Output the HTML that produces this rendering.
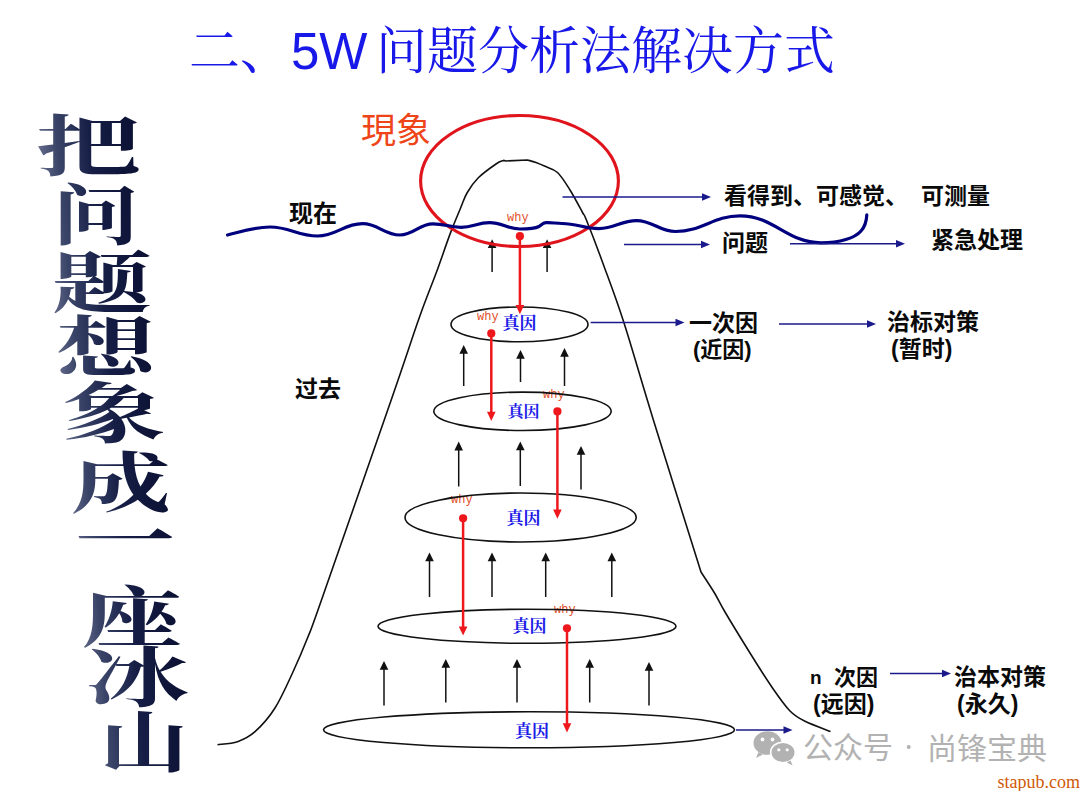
<!DOCTYPE html>
<html><head><meta charset="utf-8"><title>5W</title>
<style>html,body{margin:0;padding:0;background:#fff;font-family:"Liberation Sans",sans-serif}svg{display:block}</style></head>
<body><svg width="1080" height="791" viewBox="0 0 1080 791">
<defs><linearGradient id="wg" gradientUnits="userSpaceOnUse" x1="35" y1="145" x2="144.6" y2="135.4">
<stop offset="0" stop-color="#6a7290"/><stop offset="0.2" stop-color="#3a4468"/><stop offset="0.5" stop-color="#161e46"/><stop offset="1" stop-color="#0a0f30"/></linearGradient></defs>
<rect width="1080" height="791" fill="#fff"/>
<g font-family="'Liberation Serif','Noto Serif CJK SC',serif" font-weight="bold" font-size="66" fill="url(#wg)">
<text x="36" y="170" textLength="105" lengthAdjust="spacingAndGlyphs">把</text>
<text x="52" y="239" textLength="88" lengthAdjust="spacingAndGlyphs">问</text>
<text x="52" y="307" textLength="100" lengthAdjust="spacingAndGlyphs">题</text>
<text x="56" y="371" textLength="100" lengthAdjust="spacingAndGlyphs">想</text>
<text x="62" y="437" textLength="104" lengthAdjust="spacingAndGlyphs">象</text>
<text x="71" y="507" textLength="100" lengthAdjust="spacingAndGlyphs">成</text>
<text x="75" y="564" textLength="100" lengthAdjust="spacingAndGlyphs">一</text>
<text x="82" y="641" textLength="100" lengthAdjust="spacingAndGlyphs">座</text>
<text x="86" y="701" textLength="103" lengthAdjust="spacingAndGlyphs">冰</text>
<text x="100" y="766" textLength="88" lengthAdjust="spacingAndGlyphs">山</text>
</g>
<g font-family="'Liberation Mono',monospace" font-size="12" fill="#e2502a">
<text x="507" y="221">why</text>
<text x="477" y="320">why</text>
<text x="543" y="398">why</text>
<text x="451" y="503">why</text>
<text x="554" y="613">why</text>
</g>
<path d="M217.5 744.7 C220.8 744.2 231.2 743.9 237.5 741.7 C243.8 739.5 248.8 737.3 255 731.7 C261.2 726.1 268.8 717.8 275 708 C281.2 698.2 287.1 684.7 292.5 673 C297.9 661.3 302.7 650.2 307.5 638 C312.3 625.8 307.6 639.7 321.5 600 C335.4 560.3 374.8 447.2 391.2 400 C407.6 352.8 412.0 338.2 419.6 316.8 C427.2 295.4 431.7 285.2 436.8 271.3 C441.9 257.4 446.3 244.0 450.3 233.4 C454.3 222.8 457.8 214.7 460.6 208 C463.4 201.3 464.1 198.0 467 193 C469.9 188.0 473.5 182.6 478.3 177.8 C483.1 173.0 491.8 166.9 496 164 C500.2 161.1 502.3 161.0 503.6 160.4 L506 161 L527.5 160 C528.9 160.4 533.1 161.4 536 162.5 C538.9 163.6 541.4 164.6 545 166.3 C548.6 168.0 553.3 168.6 557.5 172.5 C561.7 176.4 565.8 183.3 570 190 C574.2 196.7 579.8 207.5 582.5 212.5 C585.2 217.5 583.0 211.6 586.4 220 C589.8 228.4 596.6 245.9 602.8 263 C609.0 280.1 615.4 296.2 623.8 322.3 C632.2 348.4 640.4 378.1 653.3 419.7 C666.2 461.3 693.0 546.6 701 572 L701 572 C703.2 575.5 710.5 586.3 714.5 593 C718.5 599.7 719.1 602.0 725 612 C730.9 622.0 742.1 640.3 750 653 C757.9 665.7 765.8 678.3 772.5 688 C779.2 697.7 784.6 705.5 790 711 C795.4 716.5 798.2 717.9 805 721.3 C811.8 724.7 826.2 729.8 830.5 731.5" fill="none" stroke="#111" stroke-width="1.6" stroke-linejoin="round"/>
<ellipse cx="519.5" cy="324.4" rx="68.5" ry="17.4" fill="none" stroke="#111" stroke-width="1.6"/>
<ellipse cx="522.5" cy="411.3" rx="88.7" ry="19.2" fill="none" stroke="#111" stroke-width="1.6"/>
<ellipse cx="520.6" cy="517.5" rx="115.6" ry="24.5" fill="none" stroke="#111" stroke-width="1.6"/>
<ellipse cx="527" cy="626.3" rx="149" ry="17" fill="none" stroke="#111" stroke-width="1.6"/>
<ellipse cx="529" cy="729.8" rx="205.5" ry="18" fill="none" stroke="#111" stroke-width="1.6"/>
<path d="M492.1 272V245.2" stroke="#111" stroke-width="1.5" fill="none"/><path d="M492.1 239.2l4.3 8.8h-8.6z" fill="#111"/>
<path d="M547.1 272V245.2" stroke="#111" stroke-width="1.5" fill="none"/><path d="M547.1 239.2l4.3 8.8h-8.6z" fill="#111"/>
<path d="M463.7 386V351" stroke="#111" stroke-width="1.5" fill="none"/><path d="M463.7 345l4.3 8.8h-8.6z" fill="#111"/>
<path d="M520.5 382V356" stroke="#111" stroke-width="1.5" fill="none"/><path d="M520.5 350l4.3 8.8h-8.6z" fill="#111"/>
<path d="M564.5 386V354" stroke="#111" stroke-width="1.5" fill="none"/><path d="M564.5 348l4.3 8.8h-8.6z" fill="#111"/>
<path d="M458.7 486.5V447.6" stroke="#111" stroke-width="1.5" fill="none"/><path d="M458.7 441.6l4.3 8.8h-8.6z" fill="#111"/>
<path d="M520.3 486V447.4" stroke="#111" stroke-width="1.5" fill="none"/><path d="M520.3 441.4l4.3 8.8h-8.6z" fill="#111"/>
<path d="M581 489.5V452" stroke="#111" stroke-width="1.5" fill="none"/><path d="M581 446l4.3 8.8h-8.6z" fill="#111"/>
<path d="M429.5 597V558.5" stroke="#111" stroke-width="1.5" fill="none"/><path d="M429.5 552.5l4.3 8.8h-8.6z" fill="#111"/>
<path d="M492 597V558.5" stroke="#111" stroke-width="1.5" fill="none"/><path d="M492 552.5l4.3 8.8h-8.6z" fill="#111"/>
<path d="M545.7 597V558.5" stroke="#111" stroke-width="1.5" fill="none"/><path d="M545.7 552.5l4.3 8.8h-8.6z" fill="#111"/>
<path d="M611.8 597V558.5" stroke="#111" stroke-width="1.5" fill="none"/><path d="M611.8 552.5l4.3 8.8h-8.6z" fill="#111"/>
<path d="M384 705.5V667" stroke="#111" stroke-width="1.5" fill="none"/><path d="M384 661l4.3 8.8h-8.6z" fill="#111"/>
<path d="M445.8 702.5V665" stroke="#111" stroke-width="1.5" fill="none"/><path d="M445.8 659l4.3 8.8h-8.6z" fill="#111"/>
<path d="M517 702.5V665" stroke="#111" stroke-width="1.5" fill="none"/><path d="M517 659l4.3 8.8h-8.6z" fill="#111"/>
<path d="M589.7 702.5V665" stroke="#111" stroke-width="1.5" fill="none"/><path d="M589.7 659l4.3 8.8h-8.6z" fill="#111"/>
<path d="M649 705.5V668" stroke="#111" stroke-width="1.5" fill="none"/><path d="M649 662l4.3 8.8h-8.6z" fill="#111"/>
<ellipse cx="519.5" cy="181" rx="98.9" ry="65.5" fill="none" stroke="#e0141c" stroke-width="3.1"/>
<path d="M227.5 235 C240 232 254 227 270 227 C289.9 227 297.6 236 317.5 236 C336.4 236 343.6 223.7 362.5 223.7 C378.2 223.7 384.2 235 400 235 C413.9 235 419.1 223.8 433 223.8 C444.8 223.8 449.2 227.3 461 227.3 C473.0 227.3 477.5 222.7 489.5 222.7 C502.3 222.7 507.2 229 520 229 C528 229 535 228.5 539 226.5 C541.5 225 542.5 223 546 222.7 C551 222.3 556 223.5 562 223.5 C577.5 223.5 583.5 228.6 599 228.6 C614.8 228.6 620.8 220.6 636.5 220.6 C652.9 220.6 659.1 231.5 675.5 231.5 C702.6 231.5 712.9 215.8 740 215.8 C774.0 215.8 787.0 242.8 821 242.8 C840 242.8 855 238 861 231 C865.5 226 866.5 221 866.8 214.8" fill="none" stroke="#00007f" stroke-width="3.2" stroke-linecap="round" stroke-linejoin="round"/>
<path d="M562.5 197H705" stroke="#1a1a8c" stroke-width="1.6" fill="none"/><path d="M711 197l-9 -3.8v7.6z" fill="#1a1a8c"/>
<path d="M624 244.5H704" stroke="#1a1a8c" stroke-width="1.6" fill="none"/><path d="M710 244.5l-9 -3.8v7.6z" fill="#1a1a8c"/>
<path d="M790 243.7H899" stroke="#1a1a8c" stroke-width="1.6" fill="none"/><path d="M905 243.7l-9 -3.8v7.6z" fill="#1a1a8c"/>
<path d="M590.7 322.5H678.5" stroke="#1a1a8c" stroke-width="1.6" fill="none"/><path d="M684.5 322.5l-9 -3.8v7.6z" fill="#1a1a8c"/>
<path d="M779 324H870" stroke="#1a1a8c" stroke-width="1.6" fill="none"/><path d="M876 324l-9 -3.8v7.6z" fill="#1a1a8c"/>
<path d="M736 730H786.5" stroke="#1a1a8c" stroke-width="1.6" fill="none"/><path d="M792.5 730l-9 -3.8v7.6z" fill="#1a1a8c"/>
<path d="M890 673.5H945" stroke="#1a1a8c" stroke-width="1.6" fill="none"/><path d="M951 673.5l-9 -3.8v7.6z" fill="#1a1a8c"/>
<circle cx="519.9" cy="236.2" r="4.1" fill="#ee181c"/><path d="M519.9 236.2V307.3" stroke="#ee181c" stroke-width="2.5" fill="none"/><path d="M519.9 314.3l4.3 -9.2h-8.6z" fill="#ee181c"/>
<circle cx="491.3" cy="333.4" r="4.1" fill="#ee181c"/><path d="M491.3 333.4V414" stroke="#ee181c" stroke-width="2.5" fill="none"/><path d="M491.3 421l4.3 -9.2h-8.6z" fill="#ee181c"/>
<circle cx="557.4" cy="411.4" r="4.1" fill="#ee181c"/><path d="M557.4 411.4V511.70000000000005" stroke="#ee181c" stroke-width="2.5" fill="none"/><path d="M557.4 518.7l4.3 -9.2h-8.6z" fill="#ee181c"/>
<circle cx="463.1" cy="518.3" r="4.1" fill="#ee181c"/><path d="M463.1 518.3V628.6" stroke="#ee181c" stroke-width="2.5" fill="none"/><path d="M463.1 635.6l4.3 -9.2h-8.6z" fill="#ee181c"/>
<circle cx="567" cy="628.3" r="4.1" fill="#ee181c"/><path d="M567 628.3V725.5" stroke="#ee181c" stroke-width="2.5" fill="none"/><path d="M567 732.5l4.3 -9.2h-8.6z" fill="#ee181c"/>
<g transform="translate(1.5 1)"><g fill="#b2b2b2"><ellipse cx="766" cy="742" rx="14" ry="11.8"/><path d="M757 751l-2.5 6 7-3.5z"/>
<ellipse cx="781.5" cy="751.5" rx="12.3" ry="10.3" stroke="#fff" stroke-width="1.6"/><path d="M789 759.5l2.2 5-6-3z"/>
</g><g fill="#fff"><circle cx="761" cy="738.5" r="1.9"/><circle cx="771" cy="738.5" r="1.9"/><circle cx="777.3" cy="748.8" r="1.6"/><circle cx="785.7" cy="748.8" r="1.6"/></g></g>
<g font-family="'Liberation Serif','Noto Serif CJK SC',serif" font-size="51" fill="#1818e8">
<text x="376" y="69">问题分析法解决方式</text>
<text x="189" y="69">二、</text>
</g>
<text x="291" y="68.5" font-size="51" fill="#1818e8" font-family="'Liberation Sans','Noto Sans CJK SC',sans-serif">5W</text>
<text x="361" y="143" font-size="35" fill="#ee4418" font-family="'Liberation Sans','Noto Sans CJK SC',sans-serif">現象</text>
<g font-family="'Liberation Sans','Noto Sans CJK SC',sans-serif" font-weight="bold" fill="#0a0a0a">
<text x="289" y="222" font-size="24">现在</text>
<text x="295" y="397" font-size="23">过去</text>
<text x="724" y="204" font-size="23">看得到、可感觉、</text>
<text x="921" y="204" font-size="23">可测量</text>
<text x="722" y="251" font-size="23">问题</text>
<text x="931" y="248" font-size="23">紧急处理</text>
<text x="689" y="331" font-size="23">一次因</text>
<text x="693" y="357" font-size="22">(近因)</text>
<text x="887" y="330" font-size="23">治标对策</text>
<text x="891" y="357" font-size="23">(暂时)</text>
<text x="810" y="684" font-size="19">n</text>
<text x="834" y="685" font-size="22">次因</text>
<text x="813" y="712" font-size="23">(远因)</text>
<text x="954" y="685" font-size="23">治本对策</text>
<text x="957" y="712" font-size="23">(永久)</text>
</g>
<g font-family="'Liberation Serif','Noto Serif CJK SC',serif" font-weight="bold" fill="#1c1ce8">
<text x="502.5" y="329" font-size="17">真因</text>
<text x="507.5" y="417" font-size="16">真因</text>
<text x="506.5" y="524" font-size="17">真因</text>
<text x="512.5" y="632" font-size="17">真因</text>
<text x="515" y="736.5" font-size="17">真因</text>
</g>
<g font-family="'Liberation Sans','Noto Sans CJK SC',sans-serif" font-size="30" fill="#b2b2b2">
<text x="803" y="758">公众号</text>
<text x="927" y="759">尚锋宝典</text>
</g>
<circle cx="908.7" cy="747" r="2" fill="#b2b2b2"/>
<text x="997.5" y="788" font-size="18" fill="#cf5a08" font-family="'Liberation Serif',serif">stapub.com</text>
</svg></body></html>
